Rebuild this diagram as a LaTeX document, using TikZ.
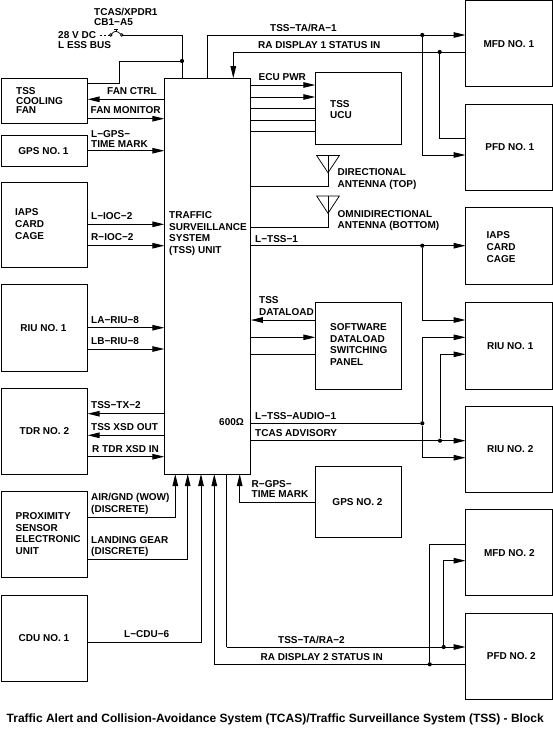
\documentclass[tikz,border=0pt]{standalone}
\usepackage{fontspec}
\setmainfont{Liberation Sans}
\usetikzlibrary{positioning,arrows.meta}

\begin{document}
\begin{tikzpicture}[
  x=1pt, y=-1pt,
  font=\fontsize{10}{11.6}\selectfont\bfseries,
  box/.style={draw, rectangle, line width=1pt, minimum width=86.4pt, minimum height=86.2pt, outer sep=0pt, align=left, inner sep=0pt},
  lbl/.style={align=left, inner sep=0pt, anchor=west},
  wire/.style={line width=1pt},
  thin wire/.style={line width=0.75pt},
  arr/.style={wire, -{Triangle[length=12pt, width=5.5pt]}},
  junct/.style={circle, fill, inner sep=0pt, minimum size=4.2pt},
  node distance=17.2pt and 78pt
]
\useasboundingbox (0,0) rectangle (553,729);

% left column
\node[box, minimum height=45pt, anchor=north west] (fan) at (1.2,78.2) {};
\node[box, minimum height=31.5pt, below=12pt of fan] (gpsa) {\hspace*{-2pt}GPS NO. 1};
\node[box, minimum height=85.5pt, below=15.5pt of gpsa] (iapsl) {};
\node[box, below=17.2pt of iapsl] (riul) {\hspace*{-2pt}RIU NO. 1};
\node[box, below=17.2pt of riul] (tdr) {TDR NO. 2};
\node[box, below=17.2pt of tdr] (prox) {};
\node[box, below=17.2pt of prox] (cdu) {\hspace*{-1pt}CDU NO. 1};

% centre column
\node[box, minimum height=395.8pt, anchor=north west] (tss) at (164.4,78.2) {};
\node[box, minimum height=71.4pt, anchor=north west] (ucu) at (315.3,72.7) {};
\node[box, anchor=north west] (swp) at (315.3,302.8) {};
\node[box, minimum height=70.6pt, anchor=north west] (gpsb) at (315.3,466.7) {\hspace*{-2pt}GPS NO. 2};

% right column
\node[box, anchor=north west] (mfda) at (465.6,0.6) {MFD NO. 1};
\node[box, below=17.2pt of mfda] (pfda) {\hspace*{2pt}PFD NO. 1};
\node[box, minimum height=77pt, below=17.2pt of pfda] (iapsr) {};
\node[box, anchor=north west] (riua) at (465.6,302.8) {\hspace*{3pt}RIU NO. 1};
\node[box, below=17.2pt of riua] (riub) {\hspace*{3pt}RIU NO. 2};
\node[box, below=17.2pt of riub] (mfdb) {\hspace*{1pt}MFD NO. 2};
\node[box, below=17.2pt of mfdb] (pfdb) {\hspace*{5pt}PFD NO. 2};

% texts set inside boxes
\node[lbl] (tfan) at (16,100.7) {TSS\\[-2.2pt]COOLING\\[-2.2pt]FAN};
\node[lbl] (tiapsl) at (15,224) {IAPS\\CARD\\CAGE};
\node[lbl] (tprox) at (15.5,533.5) {PROXIMITY\\SENSOR\\ELECTRONIC\\UNIT};
\node[lbl] (ttss) at (169,233.5) {TRAFFIC\\[0.3pt]SURVEILLANCE\\[0.3pt]SYSTEM\\[0.3pt](TSS) UNIT};
\node[lbl] (tucu) at (330,109.5) {TSS\\UCU};
\node[lbl] (tswp) at (330,344.5) {SOFTWARE\\DATALOAD\\SWITCHING\\PANEL};
\node[lbl] (tiapsr) at (486.5,247) {IAPS\\CARD\\CAGE};
\node[lbl] (t600) at (219,422) {600Ω};

% power feed
\node[lbl] (tcb) at (94,17) {TCAS/XPDR1\\[-1.6pt]CB1−A5};
\node[lbl] (tbus) at (58,40) {28 V DC\\[-1.6pt]L ESS BUS};
\coordinate (cba) at (110.7,35);
\coordinate (cbb) at (121.7,35);
\coordinate (pwr) at (182,35);
\node[junct] (jpwr) at (182,61) {};
\coordinate (fana) at (119,61);
\coordinate (fanb) at (119,83.5);
\draw[wire, dash pattern=on 2pt off 2pt] (100,35) -- (cba);
\draw[thin wire] (cba) circle (1.3pt);
\draw[thin wire] (cbb) circle (1.3pt);
\draw[thin wire] (cba) ++(1,-1) .. controls (114,30.5) and (117,30.5) .. (120.6,34);
\draw[thin wire] (116,31.5) -- (116,29) (114,29) -- (118,29);
\draw[wire] (cbb) ++(1.3,0) -- (pwr) -- (tss.north -| pwr);
\draw[wire] (jpwr) -- (fana) -- (fanb) -- (fanb -| fan.east);

% left side signals
\draw[arr] (tss.west |- 0,99.3) -- (fan.east |- 0,99.3);
\node[lbl] (tfc) at (107,91) {FAN CTRL};
\draw[arr] (fan.east |- 0,118.7) -- (tss.west |- 0,118.7);
\node[lbl] (tfm) at (90.5,110.5) {FAN MONITOR};
\draw[arr] (gpsa.east |- 0,150.7) -- (tss.west |- 0,150.7);
\node[lbl] (tlg) at (91,139) {L−GPS−\\[-2pt]TIME MARK};
\draw[arr] (iapsl.east |- 0,224.3) -- (tss.west |- 0,224.3);
\node[lbl] (tli) at (91,216) {L−IOC−2};
\draw[arr] (iapsl.east |- 0,245.7) -- (tss.west |- 0,245.7);
\node[lbl] (tri) at (91,237) {R−IOC−2};
\draw[arr] (riul.east |- 0,327.7) -- (tss.west |- 0,327.7);
\node[lbl] (tla) at (91,320) {LA−RIU−8};
\draw[arr] (riul.east |- 0,349) -- (tss.west |- 0,349);
\node[lbl] (tlb) at (91,341) {LB−RIU−8};
\draw[arr] (tss.west |- 0,413.7) -- (tdr.east |- 0,413.7);
\node[lbl] (ttx) at (91,405.5) {TSS−TX−2};
\draw[arr] (tss.west |- 0,435.3) -- (tdr.east |- 0,435.3);
\node[lbl] (tso) at (91,427.5) {TSS XSD OUT};
\draw[arr] (tdr.east |- 0,456.7) -- (tss.west |- 0,456.7);
\node[lbl] (tsi) at (92,449) {R TDR XSD IN};

% bottom signals
\coordinate (air) at (175.3,517);
\coordinate (gear) at (187.7,559.7);
\coordinate (cdul) at (201,642);
\draw[arr] (prox.east |- air) -- (air) -- (air |- tss.south);
\draw[arr] (prox.east |- gear) -- (gear) -- (gear |- tss.south);
\draw[arr] (cdu.east |- cdul) -- (cdul) -- (cdul |- tss.south);
\node[lbl] (tair) at (91,504) {AIR/GND (WOW)\\(DISCRETE)};
\node[lbl] (tgear) at (91,546.5) {LANDING GEAR\\(DISCRETE)};
\node[lbl] (tcdu) at (124,634) {L−CDU−6};

% displays no. 1
\coordinate (taa) at (207.3,35);
\node[junct] (jta) at (422.3,35) {};
\coordinate (tab) at (422.3,155);
\coordinate (raa) at (233.3,52);
\node[junct] (jra) at (439.7,52) {};
\coordinate (rab) at (439.7,138);
\draw[arr] (taa |- tss.north) -- (taa) -- (taa -| mfda.west);
\draw[arr] (jta) -- (tab) -- (tab -| pfda.west);
\draw[arr] (raa -| mfda.west) -- (raa) -- (raa |- tss.north);
\draw[wire] (jra) -- (rab) -- (rab -| pfda.west);
\node[lbl] (tta) at (270,27.5) {TSS−TA/RA−1};
\node[lbl] (tra) at (258,45) {RA DISPLAY 1 STATUS IN};

% UCU lines
\draw[arr] (tss.east |- 0,85) -- (ucu.west |- 0,85);
\draw[arr] (tss.east |- 0,97) -- (ucu.west |- 0,97);
\draw[wire] (tss.east |- 0,108.5) -- (ucu.west |- 0,108.5);
\draw[wire] (tss.east |- 0,120.5) -- (ucu.west |- 0,120.5);
\draw[wire] (tss.east |- 0,131.7) -- (ucu.west |- 0,131.7);
\node[lbl] (tecu) at (258.5,77) {ECU PWR};

% antennas
\coordinate (anta) at (328,172.7);
\coordinate (antb) at (328,213.3);
\draw[thin wire] (316.7,155.6) -- (339.3,155.6) -- (anta) -- cycle;
\draw[thin wire] (328,155.6) -- (anta);
\draw[wire] (anta) -- (328,186.3) -- (tss.east |- 0,186.3);
\draw[thin wire] (316.7,196) -- (339.3,196) -- (antb) -- cycle;
\draw[thin wire] (328,196) -- (antb);
\draw[wire] (antb) -- (328,227) -- (tss.east |- 0,227);
\node[lbl] (tdir) at (337.5,179.2) {DIRECTIONAL\\ANTENNA (TOP)};
\node[lbl] (tomn) at (337.5,220.5) {OMNIDIRECTIONAL\\ANTENNA (BOTTOM)};

% right side signals
\node[junct] (jtss) at (422.3,245.7) {};
\node[junct] (jaud) at (422.3,423.3) {};
\node[junct] (jadv) at (440,440.7) {};
\coordinate (ra) at (422.3,320);
\coordinate (rb) at (422.3,337.3);
\coordinate (rc) at (440,354.3);
\coordinate (rd) at (422.3,457.7);
\draw[arr] (tss.east |- jtss) -- (iapsr.west |- jtss);
\draw[arr] (jtss) -- (ra) -- (ra -| riua.west);
\draw[arr] (jaud) -- (rb) -- (rb -| riua.west);
\draw[arr] (jaud) -- (rd) -- (rd -| riub.west);
\draw[wire] (tss.east |- jaud) -- (jaud);
\draw[arr] (tss.east |- jadv) -- (riub.west |- jadv);
\draw[arr] (jadv) -- (rc) -- (rc -| riua.west);
\node[lbl] (tlt) at (255,239) {L−TSS−1};
\node[lbl] (tau) at (255,416) {L−TSS−AUDIO−1};
\node[lbl] (tad) at (255,433) {TCAS ADVISORY};

% dataload
\draw[arr] (swp.west |- 0,320) -- (tss.east |- 0,320);
\draw[arr] (tss.east |- 0,337.3) -- (swp.west |- 0,337.3);
\draw[wire] (tss.east |- 0,354.3) -- (swp.west |- 0,354.3);
\node[lbl] (tdl) at (259,306) {TSS\\DATALOAD};

% gps no. 2
\coordinate (gpsc) at (239.7,502.3);
\draw[arr] (gpsb.west |- gpsc) -- (gpsc) -- (gpsc |- tss.south);
\node[lbl] (trg) at (251.5,489) {R−GPS−\\[-2pt]TIME MARK};

% displays no. 2
\coordinate (tc) at (226.7,647);
\coordinate (rc2) at (214.3,664.3);
\node[junct] (jtb) at (443.7,647) {};
\node[junct] (jrb) at (429.7,664.3) {};
\coordinate (tbb) at (443.7,560.7);
\coordinate (rbb) at (429.7,544);
\draw[wire] (tc |- tss.south) -- (tc);
\draw[arr] (tc) -- (tc -| pfdb.west);
\draw[arr] (jtb) -- (tbb) -- (tbb -| mfdb.west);
\draw[arr] (rc2 -| pfdb.west) -- (rc2) -- (rc2 |- tss.south);
\draw[wire] (jrb) -- (rbb) -- (rbb -| mfdb.west);
\node[lbl] (ttb) at (278,639.5) {TSS−TA/RA−2};
\node[lbl] (trb) at (260.5,657) {RA DISPLAY 2 STATUS IN};

% title
\node[inner sep=0pt, anchor=west, font=\fontsize{12}{14}\selectfont\bfseries] (title) at (6.5,719.5) {Traffic Alert and Collision-Avoidance System (TCAS)/Traffic Surveillance System (TSS) - Block};
\end{tikzpicture}
\end{document}
